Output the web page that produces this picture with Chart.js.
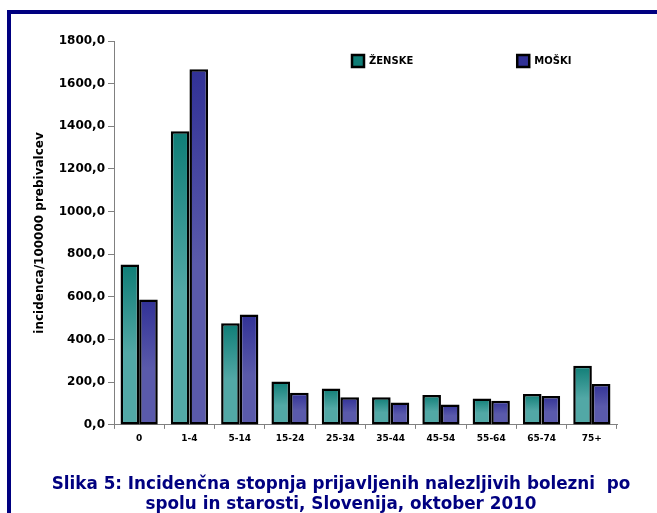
<!DOCTYPE html>
<html>
<head>
<meta charset="utf-8">
<script src="https://cdn.jsdelivr.net/npm/chart.js@4/dist/chart.umd.min.js"></script>
<style>
  html, body { margin: 0; padding: 0; background: #ffffff; }
  #wrap { position: relative; width: 657px; height: 513px; overflow: hidden; }
  #frame { position: absolute; left: 7px; top: 10px; width: 660px; height: 520px;
           border-left: 4px solid #000080; border-top: 4px solid #000080; box-sizing: border-box; }
  #c { position: absolute; left: 0; top: 0; }
</style>
</head>
<body>
<div id="wrap">
  <div id="frame"></div>
  <canvas id="c" width="657" height="513"></canvas>
</div>
<script>
const categories = ['0', '1-4', '5-14', '15-24', '25-34', '35-44', '45-54', '55-64', '65-74', '75+'];
const zenske = [752, 1377, 477, 203, 171, 129, 140, 124, 145, 277];
const moski  = [588, 1667, 517, 151, 129, 105, 96, 113, 135, 192];
const seriesNames = ['ŽENSKE', 'MOŠKI'];
const yTicks = [0, 200, 400, 600, 800, 1000, 1200, 1400, 1600, 1800];
const yTitle = 'incidenca/100000 prebivalcev';
const caption = ['Slika 5: Incidenčna stopnja prijavljenih nalezljivih bolezni  po',
                 'spolu in starosti, Slovenija, oktober 2010'];

const FONT = "'DejaVu Sans', Verdana, sans-serif";

function gradFill(dark, light, flat) {
  return function (ctx) {
    if (ctx.type !== 'data') return flat;
    const chart = ctx.chart;
    const y = chart.scales && chart.scales.y;
    if (!chart.chartArea || !y) return flat;
    const top = y.getPixelForValue(ctx.raw);
    const bot = y.getPixelForValue(0);
    if (!isFinite(top) || !isFinite(bot) || bot - top < 1) return flat;
    const g = chart.ctx.createLinearGradient(0, top, 0, bot);
    g.addColorStop(0, dark);
    g.addColorStop(0.55, light);
    g.addColorStop(1, light);
    return g;
  };
}

const LEG_X = 352, LEG_Y = 55, LEG_GAP = 104;
const TITLE_L = 36, TITLE_R = 646;
const boxPlacer = {
  id: 'boxPlacer',
  afterLayout(chart) {
    const lg = chart.legend;
    if (lg) {
      const P = lg.options.labels.padding;
      lg.left = LEG_X - P;
      lg.right = 2000;
      lg.top = LEG_Y - P;
      lg.bottom = LEG_Y + 40;
      lg.width = lg.right - lg.left;
      lg.height = lg.bottom - lg.top;
    }
    const tb = chart.titleBlock;
    if (tb) {
      tb.left = TITLE_L;
      tb.right = TITLE_R;
      tb.width = TITLE_R - TITLE_L;
    }
  }
};

new Chart(document.getElementById('c'), {
  type: 'bar',
  data: {
    labels: categories,
    datasets: [
      { label: seriesNames[0], data: zenske,
        backgroundColor: gradFill('#0f7d76', '#52a8a6', '#3a9a97'),
        borderColor: '#000000', borderWidth: 2.5 },
      { label: seriesNames[1], data: moski,
        backgroundColor: gradFill('#313196', '#5a5aab', '#4848a2'),
        borderColor: '#000000', borderWidth: 2.5 }
    ]
  },
  options: {
    responsive: false,
    animation: false,
    devicePixelRatio: 1,
    layout: { padding: { left: 0, right: 40, top: 40, bottom: 0 } },
    datasets: { bar: { categoryPercentage: 0.74, barPercentage: 1.0, borderSkipped: false } },
    plugins: {
      tooltip: { enabled: false },
      legend: {
        display: true,
        position: 'top',
        align: 'start',
        maxHeight: 1,
        labels: {
          boxWidth: 12, boxHeight: 12, padding: LEG_GAP,
          color: '#000000',
          font: { family: FONT, size: 10, weight: 'bold' }
        }
      },
      title: {
        display: true,
        position: 'bottom',
        text: caption,
        color: '#000080',
        font: { family: FONT, size: 16.8, weight: 'bold', lineHeight: 1.2 },
        padding: { top: 27, bottom: -2 }
      }
    },
    scales: {
      x: {
        grid: { display: true, drawOnChartArea: false, offset: true, tickLength: 4, color: '#808080' },
        border: { display: true, color: '#808080', width: 1 },
        ticks: { color: '#000000', font: { family: FONT, size: 9, weight: 'bold' }, padding: 4, maxRotation: 0 }
      },
      y: {
        min: 0, max: 1800,
        afterBuildTicks(scale) { scale.ticks = yTicks.map(v => ({ value: v })); },
        afterFit(scale) { scale.width = 114; },
        grid: { display: true, drawOnChartArea: false, tickLength: 6, color: '#808080' },
        border: { display: true, color: '#808080', width: 1 },
        ticks: {
          color: '#000000', padding: 3,
          font: { family: FONT, size: 12, weight: 'bold' },
          callback: (v) => Number(v).toFixed(1).replace('.', ',')
        },
        title: {
          display: true, text: yTitle, color: '#000000',
          font: { family: FONT, size: 12, weight: 'bold' },
          padding: { top: 32.8, bottom: 0 }
        }
      }
    }
  },
  plugins: [boxPlacer]
});
</script>
</body>
</html>
